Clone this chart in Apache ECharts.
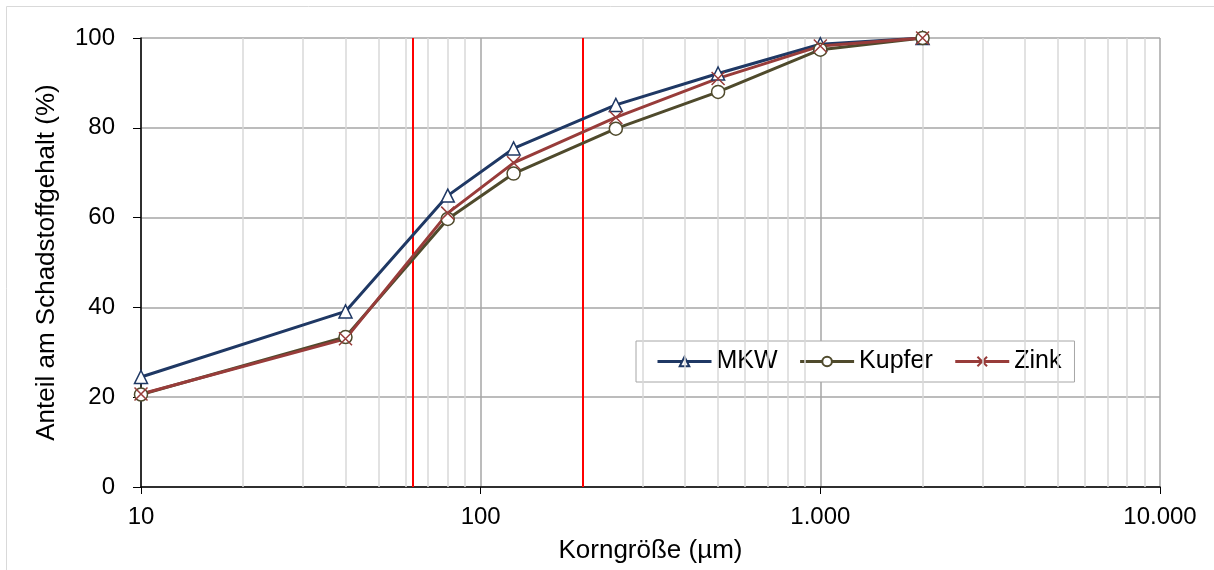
<!DOCTYPE html>
<html>
<head>
<meta charset="utf-8">
<script src="https://cdn.jsdelivr.net/npm/echarts@6/dist/echarts.min.js"></script>
<style>
html, body { margin: 0; padding: 0; background: #fff; }
#chart { width: 1214px; height: 570px; }
</style>
</head>
<body>
<div id="chart"></div>
<script>
var korngroesse = [10, 40, 80, 125, 250, 500, 1000, 2000];
var mkw = [24.5, 39.1, 64.9, 75.4, 85.1, 92.1, 98.6, 100];
var kupfer = [20.6, 33.4, 59.7, 69.8, 79.8, 88.0, 97.4, 100];
var zink = [20.7, 33.0, 61.0, 72.2, 82.3, 91.0, 98.2, 100];
var grenzen = [63, 200];
var nebenGitter = [20, 30, 40, 50, 60, 70, 80, 90, 200, 300, 400, 500, 600, 700, 800, 900,
    2000, 3000, 4000, 5000, 6000, 7000, 8000, 9000];

function paare(werte) {
    return korngroesse.map(function (x, i) { return [x, werte[i]]; });
}

var myChart = echarts.init(document.getElementById('chart'));

var schrift = 'Liberation Sans, Arial, sans-serif';

function reihe(name, werte, farbe, symbol) {
    return {
        name: name,
        type: 'line',
        data: paare(werte),
        symbol: symbol,
        symbolSize: 13,
        z: 5,
        lineStyle: { color: farbe, width: 3 },
        itemStyle: { color: '#fff', borderColor: farbe, borderWidth: 1.5 },
        emphasis: { disabled: true }
    };
}

var option = {
    animation: false,
    textStyle: { fontFamily: schrift },
    graphic: [{
        type: 'rect',
        shape: { x: 6.5, y: 6.5, width: 1300, height: 700 },
        style: { fill: 'none', stroke: '#d9d9d9', lineWidth: 1 },
        silent: true
    }],
    grid: { left: 141, right: 54, top: 38, bottom: 83 },
    legend: {
        left: 636, top: 341,
        padding: [8, 13, 8, 20],
        borderColor: '#a6a6a6', borderWidth: 1,
        backgroundColor: '#fff',
        itemWidth: 54, itemHeight: 12, itemGap: 21,
        lineStyle: { width: 3 },
        textStyle: { fontSize: 25, color: '#000', fontFamily: schrift },
        data: ['MKW', 'Kupfer', 'Zink']
    },
    xAxis: {
        type: 'log',
        logBase: 10,
        min: 10,
        max: 10000,
        name: 'Korngröße (µm)',
        nameLocation: 'middle',
        nameGap: 51,
        nameTextStyle: { fontSize: 26, color: '#000' },
        axisLine: { lineStyle: { color: '#000', width: 1.5 } },
        axisTick: { show: true, length: 7, lineStyle: { color: '#000' } },
        axisLabel: {
            fontSize: 24, color: '#000', margin: 18,
            formatter: function (v) { return String(Math.round(v)).replace(/\B(?=(\d{3})+(?!\d))/g, '.'); }
        },
        splitLine: { show: true, lineStyle: { color: '#a6a6a6', width: 1.5 } }
    },
    yAxis: {
        type: 'value',
        min: 0,
        max: 100,
        interval: 20,
        name: 'Anteil am Schadstoffgehalt (%)',
        nameLocation: 'middle',
        nameGap: 81,
        nameTextStyle: { fontSize: 26, color: '#000' },
        axisLine: { show: true, lineStyle: { color: '#000', width: 1.5 } },
        axisTick: { show: true, length: 8, lineStyle: { color: '#000' } },
        axisLabel: { fontSize: 24, color: '#000', margin: 26 },
        splitLine: { show: true, lineStyle: { color: '#a6a6a6', width: 1.5 } }
    },
    series: [
        {
            name: 'gitter',
            type: 'line',
            data: [],
            silent: true,
            z: 1,
            markLine: {
                silent: true,
                symbol: 'none',
                label: { show: false },
                lineStyle: { color: '#d9d9d9', width: 1.5, type: 'solid' },
                data: nebenGitter.map(function (x) { return { xAxis: x }; })
            }
        },
        {
            name: 'grenzen',
            type: 'line',
            data: [],
            silent: true,
            z: 3,
            markLine: {
                silent: true,
                symbol: 'none',
                label: { show: false },
                lineStyle: { color: '#ff0000', width: 2, type: 'solid' },
                data: grenzen.map(function (x) { return { xAxis: x }; })
            }
        },
        reihe('MKW', mkw, '#1f3864', 'triangle'),
        reihe('Kupfer', kupfer, '#4f4a2c', 'circle'),
        reihe('Zink', zink, '#983c3a', 'path://M0,0L10,10M10,0L0,10')
    ]
};
myChart.setOption(option);

window.onresize = function () {
    myChart.resize();
};
</script>
</body>
</html>
